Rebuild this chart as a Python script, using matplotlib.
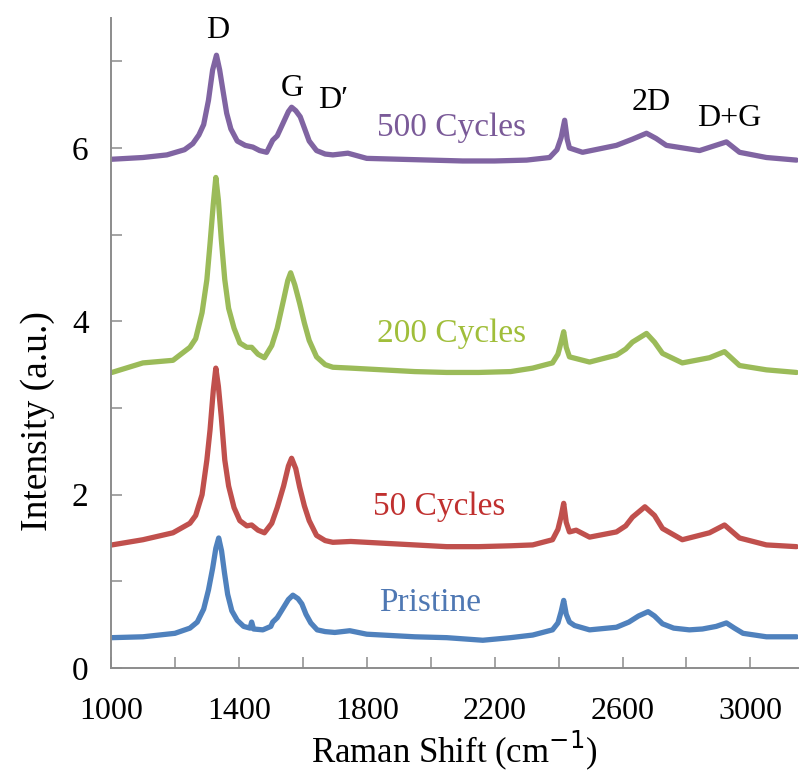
import matplotlib
matplotlib.use("Agg")
import matplotlib.pyplot as plt
from matplotlib.ticker import MultipleLocator

# ---- data ----
pristine_x = [1003, 1100, 1200, 1247, 1270, 1290, 1305, 1318, 1328, 1337, 1346, 1355, 1365, 1378, 1395, 1415,
              1435, 1440, 1446, 1475, 1500, 1506, 1520, 1540, 1555, 1569, 1585, 1597, 1610, 1625, 1645, 1670,
              1700, 1747, 1800, 1850, 1950, 2050, 2163, 2250, 2319, 2381, 2398, 2408, 2416, 2424, 2434, 2450,
              2497, 2581, 2620, 2650, 2680, 2700, 2725, 2760, 2809, 2850, 2893, 2925, 2950, 2977, 3050, 3144]
pristine_y = [0.35, 0.36, 0.40, 0.46, 0.53, 0.68, 0.90, 1.15, 1.38, 1.50, 1.35, 1.10, 0.85, 0.66, 0.55, 0.48,
              0.46, 0.53, 0.45, 0.44, 0.48, 0.53, 0.58, 0.70, 0.79, 0.84, 0.80, 0.74, 0.62, 0.52, 0.44, 0.42,
              0.41, 0.43, 0.39, 0.38, 0.36, 0.35, 0.32, 0.35, 0.38, 0.44, 0.52, 0.65, 0.78, 0.62, 0.53, 0.49,
              0.44, 0.47, 0.53, 0.60, 0.65, 0.60, 0.51, 0.46, 0.44, 0.45, 0.48, 0.52, 0.46, 0.40, 0.36, 0.36]

c50_x = [1003, 1100, 1194, 1247, 1265, 1285, 1300, 1310, 1320, 1328, 1336, 1345, 1356, 1368, 1385, 1403,
         1425, 1440, 1460, 1480, 1503, 1520, 1540, 1555, 1565, 1578, 1590, 1605, 1620, 1643, 1670, 1694,
         1750, 1850, 1950, 2050, 2150, 2250, 2319, 2381, 2398, 2408, 2416, 2424, 2434, 2455, 2497, 2581,
         2610, 2631, 2670, 2700, 2725, 2787, 2872, 2919, 2966, 3050, 3144]
c50_y = [1.42, 1.48, 1.56, 1.67, 1.76, 2.00, 2.40, 2.75, 3.20, 3.46, 3.25, 2.90, 2.40, 2.10, 1.85, 1.70,
         1.64, 1.65, 1.59, 1.56, 1.67, 1.85, 2.10, 2.33, 2.42, 2.30, 2.09, 1.87, 1.70, 1.53, 1.47, 1.45,
         1.46, 1.44, 1.42, 1.40, 1.40, 1.41, 1.42, 1.48, 1.60, 1.75, 1.90, 1.68, 1.57, 1.59, 1.51, 1.57,
         1.64, 1.74, 1.86, 1.76, 1.61, 1.48, 1.56, 1.65, 1.50, 1.42, 1.40]

c200_x = [1003, 1100, 1194, 1247, 1265, 1285, 1300, 1310, 1320, 1328, 1336, 1345, 1356, 1368, 1385, 1403,
          1425, 1440, 1460, 1480, 1503, 1520, 1540, 1553, 1562, 1575, 1590, 1605, 1620, 1643, 1670, 1694,
          1750, 1850, 1950, 2050, 2150, 2250, 2319, 2381, 2398, 2408, 2416, 2424, 2434, 2497, 2581, 2610,
          2631, 2675, 2700, 2725, 2787, 2872, 2919, 2966, 3050, 3144]
c200_y = [3.41, 3.52, 3.55, 3.70, 3.80, 4.10, 4.48, 4.90, 5.35, 5.66, 5.40, 4.95, 4.48, 4.15, 3.92, 3.75,
          3.70, 3.70, 3.62, 3.58, 3.72, 3.92, 4.25, 4.47, 4.56, 4.42, 4.21, 3.98, 3.78, 3.59, 3.50, 3.47,
          3.46, 3.44, 3.42, 3.41, 3.41, 3.42, 3.46, 3.52, 3.62, 3.76, 3.88, 3.70, 3.59, 3.53, 3.61, 3.68,
          3.76, 3.86, 3.76, 3.63, 3.52, 3.58, 3.65, 3.49, 3.44, 3.41]

c500_x = [1003, 1100, 1175, 1230, 1256, 1275, 1290, 1305, 1318, 1330, 1340, 1350, 1362, 1375, 1395, 1420,
          1444, 1465, 1487, 1506, 1520, 1540, 1555, 1565, 1578, 1592, 1605, 1620, 1643, 1670, 1694, 1741,
          1800, 1900, 2000, 2100, 2200, 2300, 2372, 2395, 2408, 2419, 2427, 2434, 2475, 2581, 2630, 2675,
          2705, 2737, 2841, 2925, 2966, 3050, 3144]
c500_y = [5.87, 5.89, 5.92, 5.98, 6.05, 6.15, 6.27, 6.55, 6.90, 7.07, 6.90, 6.67, 6.40, 6.22, 6.08, 6.03,
          6.01, 5.97, 5.95, 6.09, 6.14, 6.30, 6.42, 6.47, 6.43, 6.36, 6.23, 6.08, 5.97, 5.93, 5.92, 5.94,
          5.88, 5.87, 5.86, 5.85, 5.85, 5.86, 5.89, 5.98, 6.12, 6.32, 6.10, 6.00, 5.95, 6.03, 6.10, 6.17,
          6.11, 6.03, 5.97, 6.07, 5.95, 5.89, 5.86]

series_names = ["Pristine", "50 Cycles", "200 Cycles", "500 Cycles"]
x_ticks = [1000, 1400, 1800, 2200, 2600, 3000]
y_ticks = [0, 2, 4, 6]
peak_labels = ["D", "G", "D\u2032", "2D", "D+G"]

# ---- styling ----
line_colors = ["#4F81BD", "#C0504D", "#9BBB59", "#8064A2"]
text_colors = ["#4F78B3", "#C0302F", "#A0BE3A", "#7A5A98"]
label_pos = [(1997, 0.75), (2028, 1.86), (2066, 3.86), (2066, 6.23)]
peak_pos = [(1334, 7.36), (1566, 6.69), (1694, 6.55), (2691, 6.52), (2934, 6.34)]

serif = ["Liberation Serif", "DejaVu Serif"]
plt.rcParams["font.family"] = serif

fig = plt.figure(figsize=(8.04, 7.71), dpi=100)
ax = fig.add_axes([0.138, 0.1336, 0.855, 0.8431])

xs = [pristine_x, c50_x, c200_x, c500_x]
ys = [pristine_y, c50_y, c200_y, c500_y]
for x, y, c in zip(xs, ys, line_colors):
    ax.plot(x, y, color=c, lw=3.8, solid_joinstyle="round", solid_capstyle="round")

for name, (px, py), c in zip(series_names, label_pos, text_colors):
    ax.text(px, py, name, color=c, fontsize=24, ha="center", va="center")

for name, (px, py) in zip(peak_labels, peak_pos):
    ax.text(px, py, name, color="black", fontsize=23, ha="center", va="center")

ax.set_xlim(1000, 3150)
ax.set_ylim(0, 7.5)
ax.set_xticks(x_ticks)
ax.xaxis.set_minor_locator(MultipleLocator(200))
ax.set_yticks(y_ticks)
ax.yaxis.set_minor_locator(MultipleLocator(1))

for s in ["top", "right"]:
    ax.spines[s].set_visible(False)
for s in ["left", "bottom"]:
    ax.spines[s].set_color("#8c8c8c")
    ax.spines[s].set_linewidth(1.4)

ax.tick_params(which="both", direction="in", length=8, width=1.1, color="#8c8c8c")
ax.tick_params(axis="x", which="major", labelsize=23, pad=21)
ax.tick_params(axis="y", which="major", labelsize=24, pad=16)

ax.set_xlabel("Raman Shift (cm$^{\u22121}$)", fontsize=25, va="center")
ax.set_ylabel("Intensity (a.u.)", fontsize=27, va="center")
ax.xaxis.set_label_coords(0.50, -0.126)
ax.yaxis.set_label_coords(-0.106, 0.38)

fig.savefig("out.png", dpi=100)
